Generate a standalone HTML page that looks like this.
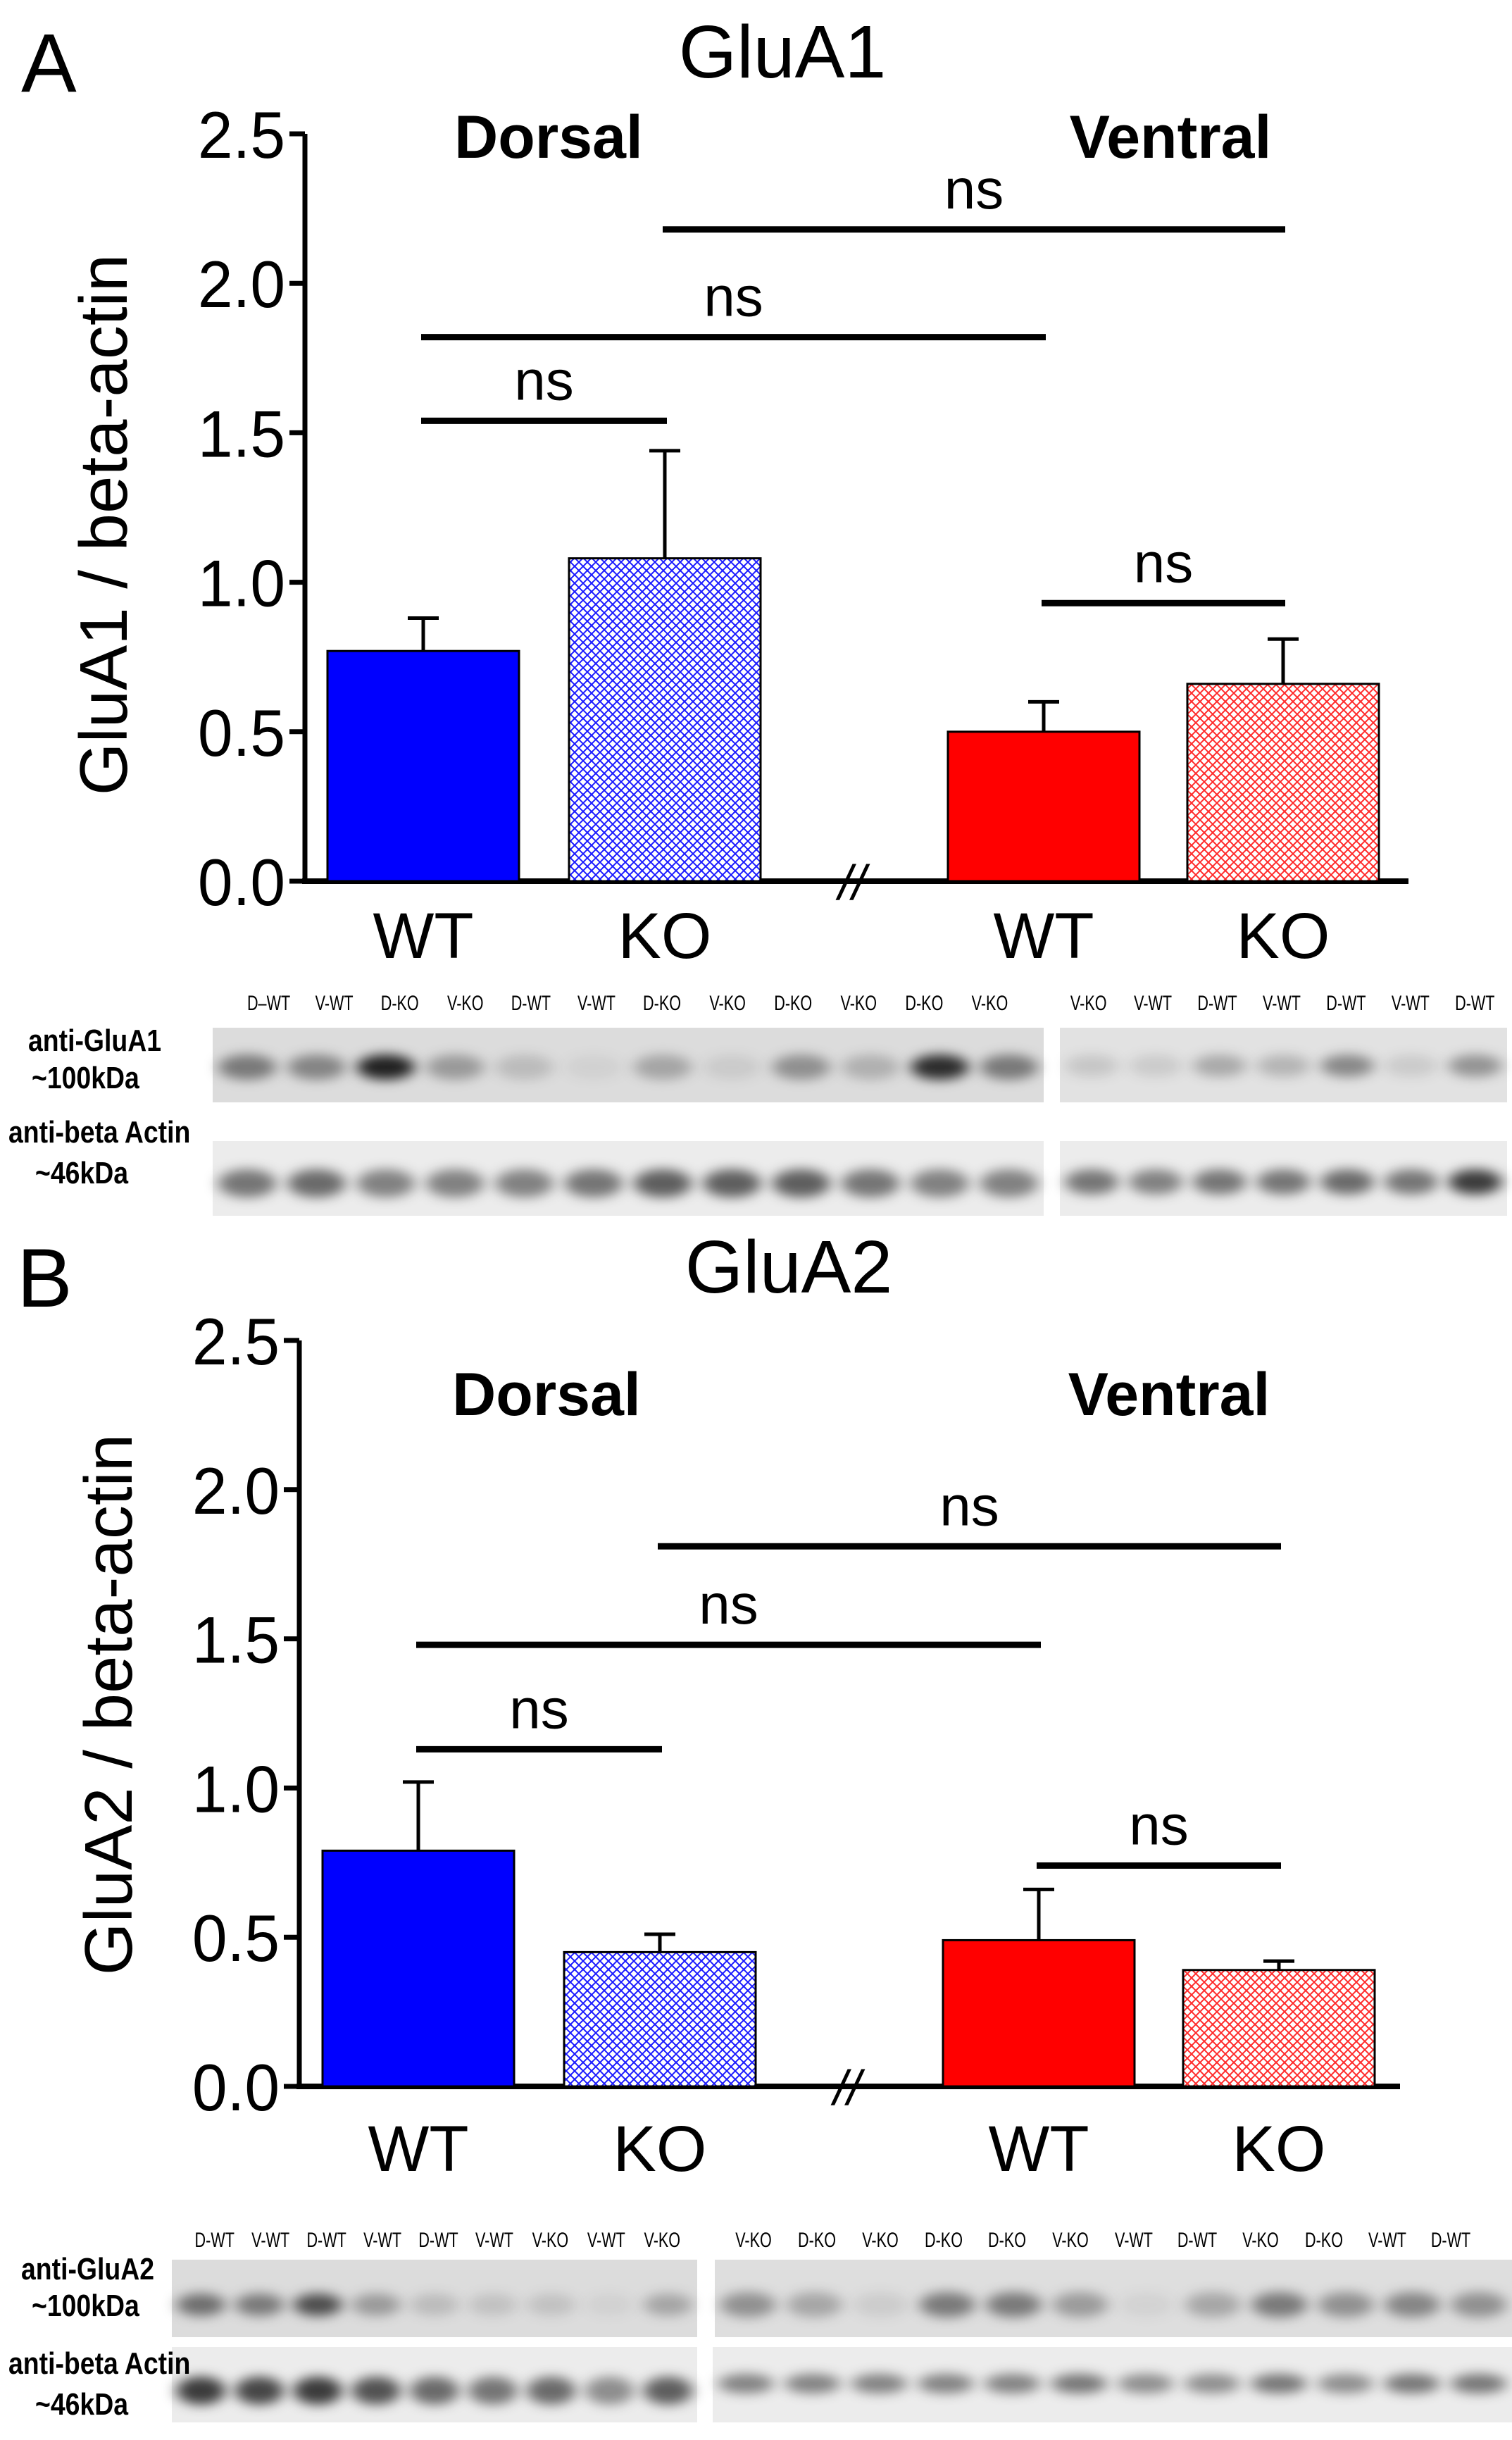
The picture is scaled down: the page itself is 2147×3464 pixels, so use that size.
<!DOCTYPE html>
<html><head><meta charset="utf-8"><style>
html,body{margin:0;padding:0;background:#fff;}
svg{display:block;}
text{font-family:"Liberation Sans",sans-serif;}
</style></head><body>
<svg id="fig" width="2147" height="3464" viewBox="0 0 2147 3464" xmlns="http://www.w3.org/2000/svg">
<defs>
<pattern id="hatchBlue" patternUnits="userSpaceOnUse" width="12" height="12">
<rect width="12" height="12" fill="#fff"/>
<path d="M0,0L12,12M12,0L0,12" stroke="#1a1aff" stroke-width="2"/>
</pattern>
<pattern id="hatchRed" patternUnits="userSpaceOnUse" width="12" height="12">
<rect width="12" height="12" fill="#fff"/>
<path d="M0,0L12,12M12,0L0,12" stroke="#ff2a2a" stroke-width="2"/>
</pattern>
<filter id="blur" x="-50%" y="-80%" width="200%" height="260%"><feGaussianBlur stdDeviation="10 8"/></filter>
</defs>
<g id="root"></g>
</svg>
<script>
// Panel A data
const categoriesA = ["WT","KO","WT","KO"];
const valuesA = [0.77, 1.08, 0.50, 0.66];
const errorsA = [0.11, 0.36, 0.10, 0.15];
// Panel B data
const categoriesB = ["WT","KO","WT","KO"];
const valuesB = [0.79, 0.45, 0.49, 0.39];
const errorsB = [0.23, 0.06, 0.17, 0.03];
const tickLabels = ["0.0","0.5","1.0","1.5","2.0","2.5"];
const tickValues = [0,0.5,1.0,1.5,2.0,2.5];
// significance brackets: [fromBar, toBar, level]
const sigA = [[0,1,1.54],[0,2,1.82],[1,3,2.18],[2,3,0.93]];
const sigB = [[0,1,1.13],[0,2,1.48],[1,3,1.81],[2,3,0.74]];
const lanesA1 = ["D–WT","V-WT","D-KO","V-KO","D-WT","V-WT","D-KO","V-KO","D-KO","V-KO","D-KO","V-KO"];
const lanesA2 = ["V-KO","V-WT","D-WT","V-WT","D-WT","V-WT","D-WT"];
const lanesB1 = ["D-WT","V-WT","D-WT","V-WT","D-WT","V-WT","V-KO","V-WT","V-KO"];
const lanesB2 = ["V-KO","D-KO","V-KO","D-KO","D-KO","V-KO","V-WT","D-WT","V-KO","D-KO","V-WT","D-WT"];

const NS="http://www.w3.org/2000/svg";
const root=document.getElementById('root');
function mk(tag,attrs,parent){const e=document.createElementNS(NS,tag);for(const k in attrs)e.setAttribute(k,attrs[k]);(parent||root).appendChild(e);return e;}
function txt(s,attrs,parent){const e=mk('text',attrs,parent);e.textContent=s;return e;}

const fills=["#0000ff","url(#hatchBlue)","#ff0000","url(#hatchRed)"];

function panel(p){
  const g=mk('g',{});
  
  
  const y=v=>p.y0-(v/2.5)*(p.y0-p.yTop);
  const t=txt(p.letter,{x:p.letterX,y:p.letterY,'font-size':118},g);
  
  const ti=txt(p.title,{x:p.titleX,y:p.titleY,'font-size':106,'text-anchor':'middle'},g);
  
  const d=txt("Dorsal",{x:p.dorsalX,y:p.groupY,'font-size':86,'font-weight':'bold','text-anchor':'middle'},g);
  
  const v=txt("Ventral",{x:p.ventralX,y:p.groupY,'font-size':86,'font-weight':'bold','text-anchor':'middle'},g);
  
  const yl=txt(p.ylabel,{x:0,y:0,'font-size':96,'text-anchor':'middle',transform:`translate(${p.ylabX},${p.ylabY}) rotate(-90)`},g);
  
  const ya=mk('line',{x1:p.axX,y1:p.yTop,x2:p.axX,y2:p.y0+4,stroke:'#000','stroke-width':7},g);
  
  tickValues.forEach((tv,i)=>{
    const tk=mk('line',{x1:p.axX-22,y1:y(tv),x2:p.axX,y2:y(tv),stroke:'#000','stroke-width':7},g);
    
    const tl=txt(tickLabels[i],{x:0,y:0,'font-size':94,'text-anchor':'end',transform:`translate(${p.axX-28},${y(tv)+34}) scale(0.95,1)`},g);
    
  });
  const xa=mk('line',{x1:p.axX-4,y1:p.y0,x2:p.axEnd,y2:p.y0,stroke:'#000','stroke-width':8},g);
  
  const br=mk('text',{x:p.breakX,y:p.y0+26,'font-size':70,'font-style':'italic','text-anchor':'middle'},g);
  br.textContent='//';
  
  const centers=[];
  p.values.forEach((val,i)=>{
    const x0=p.barX[i],w=p.barW,cx=x0+w/2;centers.push(cx);
    const eb=mk('line',{x1:cx,y1:y(val),x2:cx,y2:y(val+p.errors[i]),stroke:'#000','stroke-width':5},g);
    
    const ec=mk('line',{x1:cx-22,y1:y(val+p.errors[i]),x2:cx+22,y2:y(val+p.errors[i]),stroke:'#000','stroke-width':5},g);
    
    const r=mk('rect',{x:x0,y:y(val),width:w,height:p.y0-y(val),fill:fills[i],stroke:'#000','stroke-width':3},g);
    
    
    const xl=txt(p.cats[i],{x:cx,y:p.xlabY,'font-size':92,'text-anchor':'middle'},g);
    
  });
  p.sig.forEach(s=>{
    const x1=centers[s[0]]-3,x2=centers[s[1]]+3,yy=y(s[2]);
    const l=mk('line',{x1:x1,y1:yy,x2:x2,y2:yy,stroke:'#000','stroke-width':9},g);
    
    const n=txt('ns',{x:(x1+x2)/2,y:yy-30,'font-size':80,'text-anchor':'middle'},g);
    
  });
}

panel({name:'panel-a-glua1',letter:'A',letterX:30,letterY:130,title:'GluA1',titleX:1111,titleY:110,
  dorsalX:779,ventralX:1662,groupY:224,ylabel:'GluA1 / beta-actin',ylabX:180,ylabY:745,
  axX:433,yTop:190,y0:1251,axEnd:2000,breakX:1210,barX:[465,808,1346,1686],barW:272,
  values:valuesA,errors:errorsA,cats:categoriesA,sig:sigA,xlabY:1360});
panel({name:'panel-b-glua2',letter:'B',letterX:24,letterY:1855,title:'GluA2',titleX:1120,titleY:1835,
  dorsalX:776,ventralX:1660,groupY:2009,ylabel:'GluA2 / beta-actin',ylabX:187,ylabY:2420,
  axX:425,yTop:1903,y0:2962,axEnd:1988,breakX:1203,barX:[458,801,1339,1680],barW:272,
  values:valuesB,errors:errorsB,cats:categoriesB,sig:sigB,xlabY:3082});

function blot(name,x,y,w,h,bg,lanes,intens,bandY,bandH){
  const g=mk('g',{});
  
  mk('rect',{x:x,y:y,width:w,height:h,fill:bg},g);
  const lw=w/lanes;
  for(let i=0;i<lanes;i++){
    const a=intens[i%intens.length];
    mk('ellipse',{cx:x+lw*(i+0.5),cy:y+bandY,rx:lw*0.42,ry:bandH,fill:'#000','fill-opacity':a,filter:'url(#blur)'},g);
  }
}
function laneLabels(labels,x0,x1,y){
  const lw=(x1-x0)/labels.length;
  labels.forEach((s,i)=>{
    const t=txt(s,{x:0,y:0,'font-size':30,'text-anchor':'middle',transform:`translate(${x0+lw*(i+0.5)},${y}) scale(0.72,1)`});
    
  });
}
function sideLabel(s,x,y){const t=txt(s,{x:0,y:0,'font-size':44,'font-weight':'bold',transform:`translate(${x},${y}) scale(0.85,1)`});}

laneLabels(lanesA1,335,1452,1434);
laneLabels(lanesA2,1500,2140,1434);
blot('glua1-blot-left',302,1459,1180,106,'#dcdcdc',12,[0.45,0.4,0.85,0.3,0.15,0.05,0.25,0.08,0.35,0.2,0.8,0.45],56,18);
blot('glua1-blot-right',1505,1459,635,106,'#e2e2e2',7,[0.12,0.1,0.25,0.2,0.4,0.1,0.35],54,16);
blot('actin-a-left',302,1620,1180,106,'#ececec',12,[0.5,0.55,0.45,0.45,0.45,0.5,0.6,0.6,0.6,0.5,0.45,0.45],60,20);
blot('actin-a-right',1505,1620,635,106,'#ececec',7,[0.5,0.45,0.5,0.5,0.55,0.5,0.75],58,18);
sideLabel('anti-GluA1',40,1492);sideLabel('~100kDa',45,1545);
sideLabel('anti-beta Actin',12,1622);sideLabel('~46kDa',50,1680);
laneLabels(lanesB1,265,980,3190);
laneLabels(lanesB2,1025,2105,3190);
blot('glua2-blot-left',244,3208,746,110,'#dcdcdc',9,[0.5,0.45,0.65,0.3,0.15,0.12,0.12,0.05,0.25],64,16);
blot('glua2-blot-right',1015,3208,1132,110,'#dedede',12,[0.35,0.25,0.08,0.45,0.45,0.3,0.05,0.25,0.45,0.35,0.4,0.35],64,18);
blot('actin-b-left',244,3332,746,107,'#ececec',9,[0.75,0.7,0.75,0.65,0.55,0.5,0.55,0.4,0.6],62,20);
blot('actin-b-right',1012,3332,1135,107,'#ececec',12,[0.45,0.45,0.45,0.45,0.45,0.5,0.4,0.4,0.5,0.4,0.5,0.5],52,14);
sideLabel('anti-GluA2',30,3236);sideLabel('~100kDa',45,3288);
sideLabel('anti-beta Actin',12,3370);sideLabel('~46kDa',50,3428);
</script>
</body></html>
